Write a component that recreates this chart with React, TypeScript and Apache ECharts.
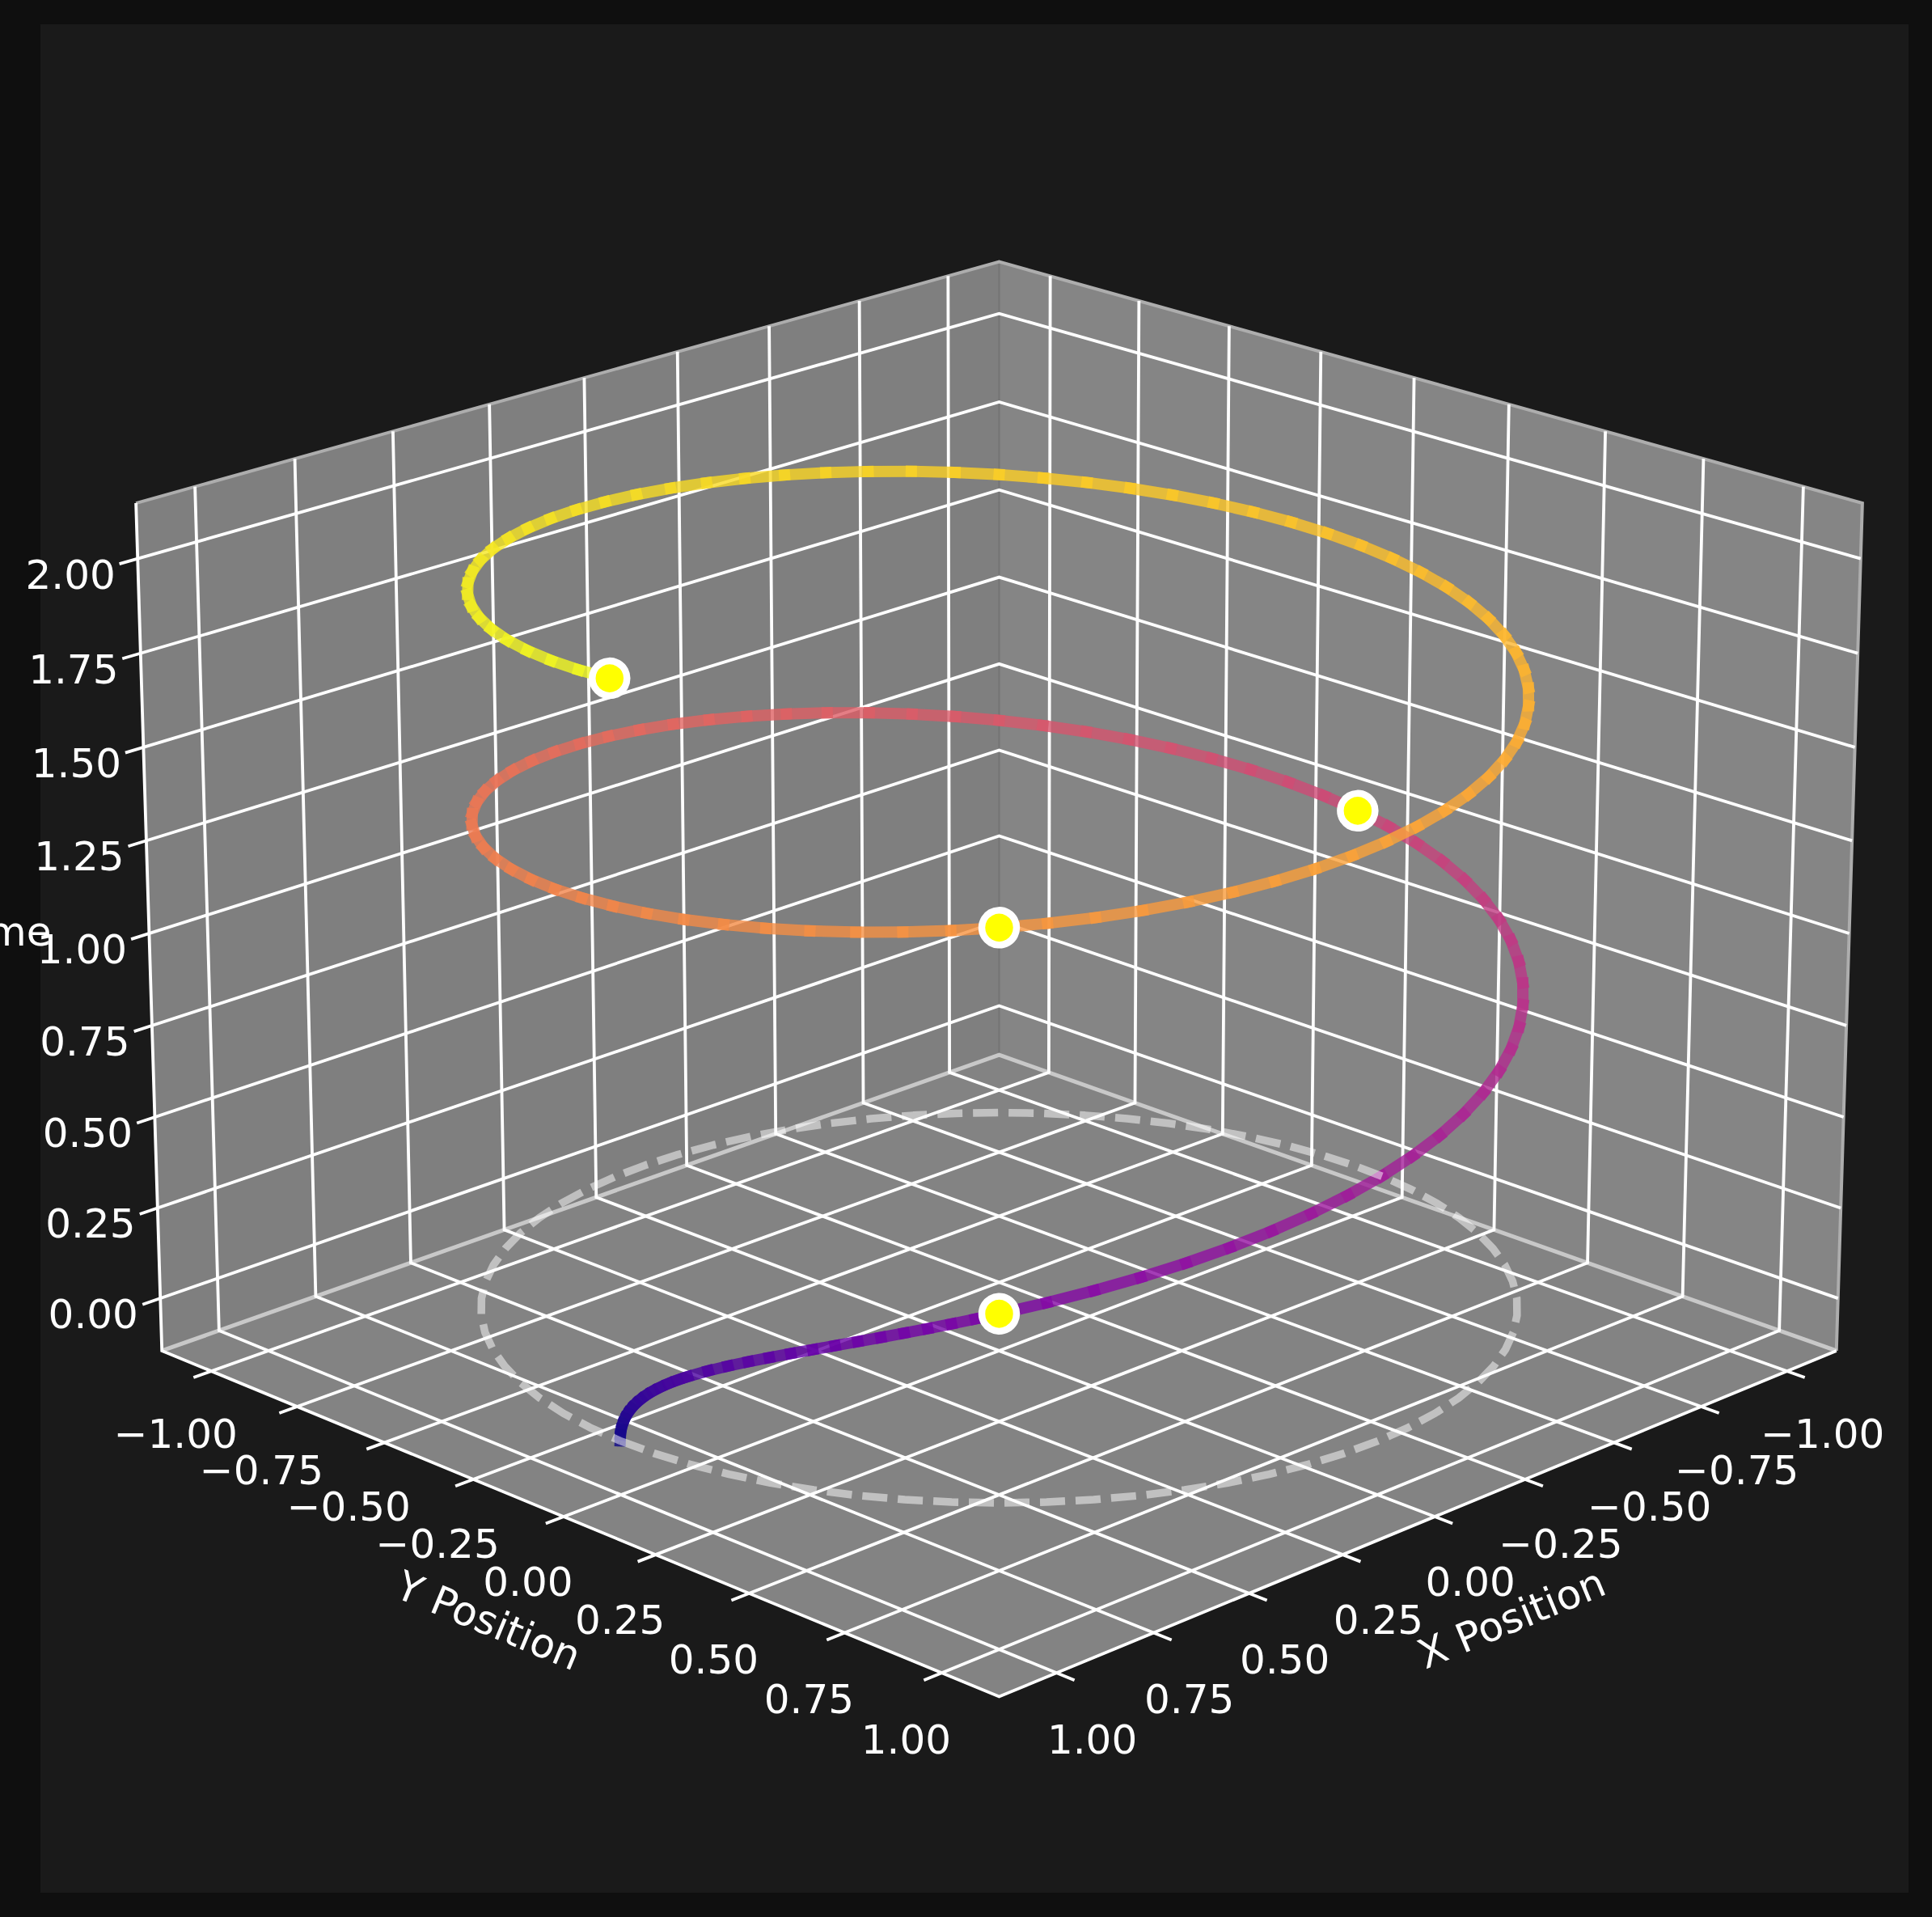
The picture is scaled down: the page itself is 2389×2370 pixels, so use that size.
import React, { useEffect, useRef } from "react";
import * as echarts from "echarts";

// ---- data ----
const tickValues = [-1, -0.75, -0.5, -0.25, 0, 0.25, 0.5, 0.75, 1];
const tickLabels = ["\u22121.00", "\u22120.75", "\u22120.50", "\u22120.25", "0.00", "0.25", "0.50", "0.75", "1.00"];
const zTickValues = [0, 0.25, 0.5, 0.75, 1, 1.25, 1.5, 1.75, 2];
const zTickLabels = ["0.00", "0.25", "0.50", "0.75", "1.00", "1.25", "1.50", "1.75", "2.00"];
const axisLimits = { min: -1.1458, max: 1.1458, zMin: -0.1458, zMax: 2.1458 };

const helixX = [
  1, 1, 1, 1, 0.9999, 0.9998, 0.9995, 0.9991, 0.9984, 0.9975, 0.9962, 0.9944, 0.9921, 0.9891, 0.9854,
  0.9763, 0.9659, 0.9537, 0.9397, 0.9239, 0.9063, 0.887, 0.866, 0.8434, 0.8192, 0.7934, 0.766, 0.7373, 0.7071,
  0.6428, 0.5736, 0.5, 0.4226, 0.342, 0.2588, 0.1736, 0.0872, 0, -0.0872, -0.1736, -0.2588, -0.342, -0.4226, -0.5, -0.5736, -0.6428, -0.7071, -0.766, -0.8192, -0.866, -0.9063, -0.9397, -0.9659, -0.9848, -0.9962,
  -1, -0.9962, -0.9848, -0.9659, -0.9397, -0.9063, -0.866, -0.8192, -0.766, -0.7071, -0.6428, -0.5736, -0.5, -0.4226, -0.342, -0.2588, -0.1736, -0.0872, 0, 0.0872, 0.1736, 0.2588, 0.342, 0.4226, 0.5, 0.5736, 0.6428, 0.7071, 0.766, 0.8192, 0.866, 0.9063, 0.9397, 0.9659, 0.9848, 0.9962,
  1, 0.9962, 0.9848, 0.9659, 0.9397, 0.9063, 0.866, 0.8192, 0.766, 0.7071, 0.6428, 0.5736, 0.5, 0.4226, 0.342, 0.2588, 0.1736, 0.0872, 0, -0.0872, -0.1736, -0.2588, -0.342, -0.4226, -0.5, -0.5736, -0.6428, -0.7071, -0.766, -0.8192, -0.866, -0.9063, -0.9397, -0.9659, -0.9848, -0.9962,
  -1, -0.9962, -0.9848, -0.9659, -0.9397, -0.9063, -0.866, -0.8192, -0.766, -0.7071, -0.6428, -0.5736, -0.5, -0.4226, -0.342, -0.2588, -0.1736, -0.0872, 0, 0.0872, 0.1736, 0.2588, 0.342, 0.4226, 0.5, 0.5736, 0.6428, 0.7071, 0.766, 0.8192, 0.866, 0.9063, 0.9397, 0.9659, 0.9848, 0.9962,
  1,
];
const helixY = [
  0, 0.0009, 0.0035, 0.0079, 0.014, 0.0218, 0.0314, 0.0427, 0.0558, 0.0706, 0.0872, 0.1054, 0.1253, 0.1469, 0.1702,
  0.2164, 0.2588, 0.3007, 0.342, 0.3827, 0.4226, 0.4617, 0.5, 0.5373, 0.5736, 0.6088, 0.6428, 0.6756, 0.7071,
  0.766, 0.8192, 0.866, 0.9063, 0.9397, 0.9659, 0.9848, 0.9962, 1, 0.9962, 0.9848, 0.9659, 0.9397, 0.9063, 0.866, 0.8192, 0.766, 0.7071, 0.6428, 0.5736, 0.5, 0.4226, 0.342, 0.2588, 0.1736, 0.0872,
  0, -0.0872, -0.1736, -0.2588, -0.342, -0.4226, -0.5, -0.5736, -0.6428, -0.7071, -0.766, -0.8192, -0.866, -0.9063, -0.9397, -0.9659, -0.9848, -0.9962, -1, -0.9962, -0.9848, -0.9659, -0.9397, -0.9063, -0.866, -0.8192, -0.766, -0.7071, -0.6428, -0.5736, -0.5, -0.4226, -0.342, -0.2588, -0.1736, -0.0872,
  0, 0.0872, 0.1736, 0.2588, 0.342, 0.4226, 0.5, 0.5736, 0.6428, 0.7071, 0.766, 0.8192, 0.866, 0.9063, 0.9397, 0.9659, 0.9848, 0.9962, 1, 0.9962, 0.9848, 0.9659, 0.9397, 0.9063, 0.866, 0.8192, 0.766, 0.7071, 0.6428, 0.5736, 0.5, 0.4226, 0.342, 0.2588, 0.1736, 0.0872,
  0, -0.0872, -0.1736, -0.2588, -0.342, -0.4226, -0.5, -0.5736, -0.6428, -0.7071, -0.766, -0.8192, -0.866, -0.9063, -0.9397, -0.9659, -0.9848, -0.9962, -1, -0.9962, -0.9848, -0.9659, -0.9397, -0.9063, -0.866, -0.8192, -0.766, -0.7071, -0.6428, -0.5736, -0.5, -0.4226, -0.342, -0.2588, -0.1736, -0.0872,
  0,
];
const helixTime = [
  0, 0.0167, 0.0333, 0.05, 0.0667, 0.0833, 0.1, 0.1167, 0.1333, 0.15, 0.1667, 0.1833, 0.2, 0.2167, 0.2333,
  0.2635, 0.2887, 0.3118, 0.3333, 0.3536, 0.3727, 0.3909, 0.4082, 0.4249, 0.441, 0.4564, 0.4714, 0.4859, 0.5,
  0.527, 0.5528, 0.5774, 0.6009, 0.6236, 0.6455, 0.6667, 0.6872, 0.7071, 0.7265, 0.7454, 0.7638, 0.7817, 0.7993, 0.8165, 0.8333, 0.8498, 0.866, 0.8819, 0.8975, 0.9129, 0.928, 0.9428, 0.9574, 0.9718, 0.986,
  1, 1.0138, 1.0274, 1.0408, 1.0541, 1.0672, 1.0801, 1.0929, 1.1055, 1.118, 1.1304, 1.1426, 1.1547, 1.1667, 1.1785, 1.1902, 1.2019, 1.2134, 1.2247, 1.236, 1.2472, 1.2583, 1.2693, 1.2802, 1.291, 1.3017, 1.3123, 1.3229, 1.3333, 1.3437, 1.354, 1.3642, 1.3744, 1.3844, 1.3944, 1.4044,
  1.4142, 1.424, 1.4337, 1.4434, 1.453, 1.4625, 1.472, 1.4814, 1.4907, 1.5, 1.5092, 1.5184, 1.5275, 1.5366, 1.5456, 1.5546, 1.5635, 1.5723, 1.5811, 1.5899, 1.5986, 1.6073, 1.6159, 1.6245, 1.633, 1.6415, 1.6499, 1.6583, 1.6667, 1.675, 1.6833, 1.6915, 1.6997, 1.7078, 1.7159, 1.724, 1.7321, 1.7401, 1.748, 1.7559,
  1.7638, 1.7717, 1.7795, 1.7873, 1.7951, 1.8028, 1.8105, 1.8181, 1.8257, 1.8333, 1.8409, 1.8484, 1.8559, 1.8634, 1.8708, 1.8782, 1.8856, 1.893, 1.9003, 1.9076, 1.9149, 1.9221, 1.9293, 1.9365, 1.9437, 1.9508, 1.9579, 1.965, 1.972, 1.9791, 1.9861, 1.993,
  2,
];

const circleX = [
  1, 0.9962, 0.9848, 0.9659, 0.9397, 0.9063, 0.866, 0.8192, 0.766, 0.7071, 0.6428, 0.5736, 0.5, 0.4226, 0.342, 0.2588, 0.1736, 0.0872, 0, -0.0872, -0.1736, -0.2588, -0.342, -0.4226, -0.5, -0.5736, -0.6428, -0.7071, -0.766, -0.8192, -0.866, -0.9063, -0.9397, -0.9659, -0.9848, -0.9962,
  -1, -0.9962, -0.9848, -0.9659, -0.9397, -0.9063, -0.866, -0.8192, -0.766, -0.7071, -0.6428, -0.5736, -0.5, -0.4226, -0.342, -0.2588, -0.1736, -0.0872, 0, 0.0872, 0.1736, 0.2588, 0.342, 0.4226, 0.5, 0.5736, 0.6428, 0.7071, 0.766, 0.8192, 0.866, 0.9063, 0.9397, 0.9659, 0.9848, 0.9962, 1,
];
const circleY = [
  0, 0.0872, 0.1736, 0.2588, 0.342, 0.4226, 0.5, 0.5736, 0.6428, 0.7071, 0.766, 0.8192, 0.866, 0.9063, 0.9397, 0.9659, 0.9848, 0.9962, 1, 0.9962, 0.9848, 0.9659, 0.9397, 0.9063, 0.866, 0.8192, 0.766, 0.7071, 0.6428, 0.5736, 0.5, 0.4226, 0.342, 0.2588, 0.1736, 0.0872,
  0, -0.0872, -0.1736, -0.2588, -0.342, -0.4226, -0.5, -0.5736, -0.6428, -0.7071, -0.766, -0.8192, -0.866, -0.9063, -0.9397, -0.9659, -0.9848, -0.9962, -1, -0.9962, -0.9848, -0.9659, -0.9397, -0.9063, -0.866, -0.8192, -0.766, -0.7071, -0.6428, -0.5736, -0.5, -0.4226, -0.342, -0.2588, -0.1736, -0.0872, 0,
];

const markerX = [0.7071, -1, 0.7071, 1];
const markerY = [0.7071, 0, 0.7071, 0];
const markerTime = [0.5, 1, 1.5, 2];

const plasmaStops = ["#0d0887", "#41049d", "#6a00a8", "#8f0da4", "#b12a90", "#cc4778", "#e16462", "#f2844b", "#fca636", "#fcce25", "#f0f921"];

// ---- view: elevation 20, azimuth 45, perspective distance 10, box aspect 4:4:3 ----
const ELEV = (20 * Math.PI) / 180;
const AZIM = (45 * Math.PI) / 180;
const DIST = 10;
const BOX = [1.1905, 1.1905, 0.8929];
const W = 2389;
const H = 2370;
const SCALE = 12486;
const CX = 1235.5;
const CY = 1154;

function project(x: number, y: number, z: number): [number, number] {
  const { min, max, zMin, zMax } = axisLimits;
  const dx = ((x - min) / (max - min) - 0.5) * BOX[0];
  const dy = ((y - min) / (max - min) - 0.5) * BOX[1];
  const dz = ((z - zMin) / (zMax - zMin) - 0.5) * BOX[2];
  const ce = Math.cos(ELEV), se = Math.sin(ELEV), ca = Math.cos(AZIM), sa = Math.sin(AZIM);
  const u = -sa * dx + ca * dy;
  const v = -se * ca * dx - se * sa * dy + ce * dz;
  const d = ce * ca * dx + ce * sa * dy + se * dz;
  return [u / (DIST - d), v / (DIST - d)];
}

function plasma(f: number, alpha: number): string {
  const p = Math.max(0, Math.min(1, f)) * (plasmaStops.length - 1);
  const i = Math.min(plasmaStops.length - 2, Math.floor(p));
  const c = (h: string) => [1, 3, 5].map((k) => parseInt(h.slice(k, k + 2), 16));
  const a = c(plasmaStops[i]);
  const b = c(plasmaStops[i + 1]);
  const m = a.map((q, k) => Math.round(q + (b[k] - q) * (p - i)));
  return `rgba(${m[0]},${m[1]},${m[2]},${alpha})`;
}

type Poly = { pts: [number, number, number][]; stroke: string; width: number };
type Label = { text: string; at: [number, number, number]; dx: number; dy: number; rot?: number; align?: string };

const FONT = "DejaVu Sans";
const TICK_OUT = 0.045;

export default function App() {
  const ref = useRef<HTMLDivElement>(null);
  useEffect(() => {
    if (!ref.current) return;
    const chart = echarts.init(ref.current, undefined, { renderer: "svg" });
    const { min, max, zMin, zMax } = axisLimits;

    const panes: { pts: [number, number, number][]; fill: string }[] = [
      { pts: [[max, min, zMin], [min, min, zMin], [min, min, zMax], [max, min, zMax]], fill: "#7f7f7f" },
      { pts: [[min, min, zMin], [min, max, zMin], [min, max, zMax], [min, min, zMax]], fill: "#858585" },
      { pts: [[max, min, zMin], [max, max, zMin], [min, max, zMin], [min, min, zMin]], fill: "#838383" },
    ];

    const edges: Poly[] = [
      { pts: [[min, min, zMin], [min, min, zMax]], stroke: "#747474", width: 2 },
      { pts: [[max, min, zMax], [min, min, zMax], [min, max, zMax], [min, max, zMin]], stroke: "#adadad", width: 4 },
      { pts: [[max, min, zMin], [min, min, zMin], [min, max, zMin]], stroke: "#c8c8c8", width: 5 },
    ];

    const grid: Poly[] = [];
    tickValues.forEach((t) => {
      grid.push({ pts: [[t, max + TICK_OUT, zMin], [t, min, zMin], [t, min, zMax]], stroke: "#ffffff", width: 3.8 });
      grid.push({ pts: [[max + TICK_OUT, t, zMin], [min, t, zMin], [min, t, zMax]], stroke: "#ffffff", width: 3.8 });
    });
    zTickValues.forEach((t) => {
      grid.push({ pts: [[max + TICK_OUT, min, t], [min, min, t], [min, max, t]], stroke: "#ffffff", width: 3.8 });
    });
    grid.push({ pts: [[min, max, zMin], [max, max, zMin], [max, min, zMin], [max, min, zMax]], stroke: "#ffffff", width: 3.8 });

    const labels: Label[] = [];
    tickValues.forEach((t, i) => {
      const dy = 78 + 2.5 * (t + 1);
      labels.push({ text: tickLabels[i], at: [t, max, zMin], dx: 44, dy });
      labels.push({ text: tickLabels[i], at: [max, t, zMin], dx: -44, dy });
    });
    zTickValues.forEach((t, i) => {
      labels.push({ text: zTickLabels[i], at: [max, min, t], dx: -83, dy: 20 });
    });
    labels.push({ text: "X Position", at: [0, max, zMin], dx: 95, dy: 126, rot: (22.5 * Math.PI) / 180 });
    labels.push({ text: "Y Position", at: [max, 0, zMin], dx: -93, dy: 129, rot: (-22.5 * Math.PI) / 180 });
    labels.push({ text: "Time", at: [max, min, 1], dx: -121, dy: -2, align: "right" });

    const segments = helixX.slice(1).map((_, i) => {
      const a = project(helixX[i], helixY[i], helixTime[i]);
      const b = project(helixX[i + 1], helixY[i + 1], helixTime[i + 1]);
      return [a[0], a[1], b[0], b[1], (helixTime[i] + helixTime[i + 1]) / 2];
    });
    const circle = circleX.map((x, i) => project(x, circleY[i], 0));
    const markers = markerX.map((x, i) => project(x, markerY[i], markerTime[i]));

    const polyRender = (list: Poly[]) => (params: any, api: any) => {
      const it = list[params.dataIndex];
      return {
        type: "polyline",
        shape: { points: it.pts.map((p) => api.coord(project(p[0], p[1], p[2]))) },
        style: { stroke: it.stroke, lineWidth: it.width, fill: "none" },
      };
    };

    chart.setOption({
      animation: false,
      backgroundColor: "#0f0f0f",
      graphic: [{ type: "rect", z: -1, shape: { x: 50, y: 30, width: 2310, height: 2310 }, style: { fill: "#1a1a1a" } }],
      grid: { left: 0, right: 0, top: 0, bottom: 0 },
      xAxis: { type: "value", show: false, min: -CX / SCALE, max: (W - CX) / SCALE },
      yAxis: { type: "value", show: false, min: (CY - H) / SCALE, max: CY / SCALE },
      tooltip: { show: false },
      series: [
        {
          type: "custom", z: 1, silent: true, clip: false,
          data: panes.map((_, i) => [i]),
          renderItem: (params: any, api: any) => {
            const it = panes[params.dataIndex];
            return {
              type: "polygon",
              shape: { points: it.pts.map((p) => api.coord(project(p[0], p[1], p[2]))) },
              style: { fill: it.fill },
            };
          },
        },
        { type: "custom", z: 2, silent: true, clip: false, data: edges.map((_, i) => [i]), renderItem: polyRender(edges) },
        { type: "custom", z: 3, silent: true, clip: false, data: grid.map((_, i) => [i]), renderItem: polyRender(grid) },
        {
          type: "custom", z: 4, silent: true, clip: false,
          data: segments,
          renderItem: (params: any, api: any) => {
            const a = api.coord([api.value(0), api.value(1)]);
            const b = api.coord([api.value(2), api.value(3)]);
            return {
              type: "line",
              shape: { x1: a[0], y1: a[1], x2: b[0], y2: b[1] },
              style: { stroke: plasma(api.value(4) / 2, 0.8), lineWidth: 14, lineCap: "square" },
            };
          },
        },
        {
          type: "line", z: 5, silent: true, clip: false, showSymbol: false, symbol: "none",
          data: circle,
          lineStyle: { color: "rgba(255,255,255,0.5)", width: 9.5, type: [31, 13], cap: "butt" },
        },
        {
          type: "scatter", z: 6, silent: true, clip: false,
          data: markers, symbol: "circle", symbolSize: 43,
          itemStyle: { color: "#ffff00", borderColor: "#ffffff", borderWidth: 8.5, opacity: 1 },
        },
        {
          type: "custom", z: 7, silent: true, clip: false,
          data: labels.map((_, i) => [i]),
          renderItem: (params: any, api: any) => {
            const it = labels[params.dataIndex];
            const c = api.coord(project(it.at[0], it.at[1], it.at[2]));
            return {
              type: "text",
              x: c[0] + it.dx,
              y: c[1] + it.dy,
              rotation: it.rot || 0,
              style: {
                text: it.text, fill: "#ffffff", fontFamily: FONT, fontSize: 50,
                align: it.align || "center", verticalAlign: "middle",
              },
            };
          },
        },
      ],
    });
    return () => chart.dispose();
  }, []);
  return <div ref={ref} style={{ position: "absolute", left: 0, top: 0, width: W, height: H }} />;
}
